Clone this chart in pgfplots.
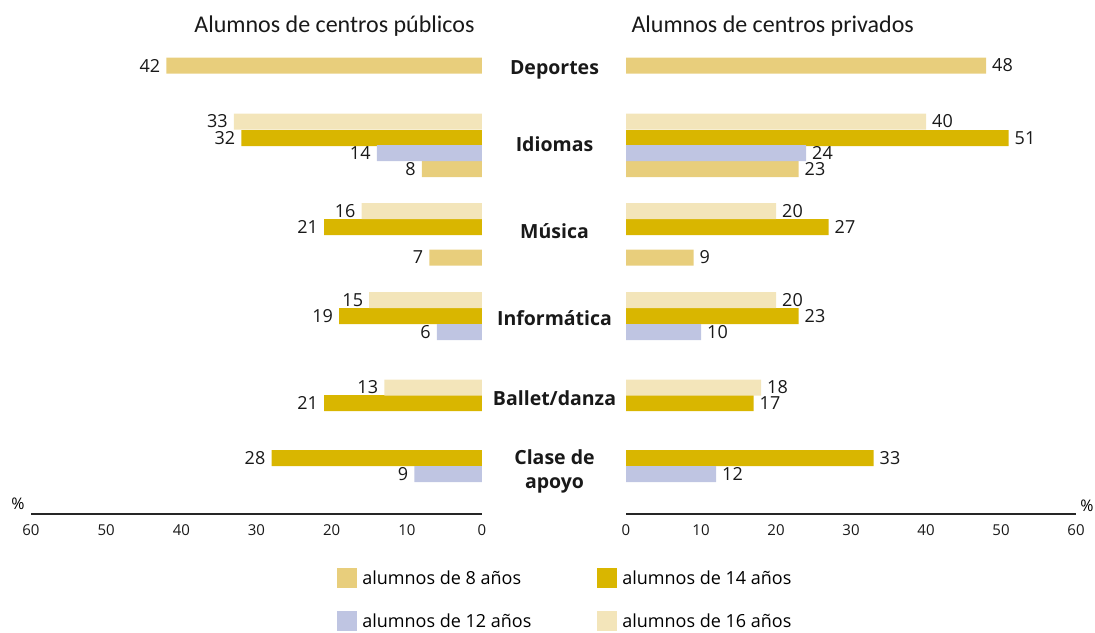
\documentclass[border=0pt]{standalone}
\usepackage{pgfplots}
\pgfplotsset{compat=1.18}
\usepackage{fontspec}
\setmainfont{Open Sans}
\newfontfamily\titlefont{Carlito}
\definecolor{c8}{HTML}{E8CE7C}
\definecolor{c14}{HTML}{D9B600}
\definecolor{c12}{HTML}{BFC5E2}
\definecolor{c16}{HTML}{F3E5BA}
\pgfplotsset{
 mybar/.style={xbar, bar shift=0pt, bar width=16, draw=none, fill=#1,
   legend image code/.code={\fill[#1] (0pt,-10pt) rectangle (20pt,10pt);}},
 half/.style={scale only axis, height=474pt, ymin=-514, ymax=-40,
   xmin=0, xmax=60, axis x line=bottom, axis y line=none,
   x axis line style={-, line width=1.2pt, color=black!85},
   xtick={0,10,...,60}, major tick length=0pt,
   xticklabel style={font=\fontsize{15}{17}\selectfont, text=black!90, yshift=-7pt},
   /pgf/number format/assume math mode=true,
   point meta=x, nodes near coords,
   clip=false}
}
\begin{document}
\begin{tikzpicture}
\useasboundingbox (0pt,0pt) rectangle (1095pt,-632pt);
% left: public
\begin{axis}[half, at={(31pt,-514pt)}, anchor=south west, width=451pt, x dir=reverse,
  every node near coord/.append style={anchor=east, font=\fontsize{18}{20}\selectfont, text=black!90, inner xsep=6pt, inner ysep=2pt}]
\addplot[mybar=c8] coordinates {(42,-65.5) (8,-169) (7,-257.5)};
\addplot[mybar=c14] coordinates {(32,-138) (21,-227) (19,-316) (21,-403) (28,-458)};
\addplot[mybar=c12] coordinates {(14,-153) (6,-332) (9,-474)};
\addplot[mybar=c16] coordinates {(33,-121.5) (16,-211) (15,-300) (13,-387.5)};
\end{axis}
% right: private
\begin{axis}[half, at={(626pt,-514pt)}, anchor=south west, width=450pt,
  every node near coord/.append style={anchor=west, font=\fontsize{18}{20}\selectfont, text=black!90, inner xsep=6pt, inner ysep=2pt},
  legend columns=2, legend cell align=left,
  legend style={at={(axis description cs:-0.642,-0.114)}, anchor=north west, draw=none, fill=none,
    inner sep=0pt, font=\fontsize{18}{20}\selectfont, row sep=23pt,
    nodes={inner sep=0pt},
    /tikz/every odd column/.append style={column sep=5pt}}]
\addplot[mybar=c8] coordinates {(48,-65.5) (23,-169) (9,-257.5)};
\addlegendentry{\makebox[235pt][l]{alumnos de 8 años}}
\addplot[mybar=c14] coordinates {(51,-138) (27,-227) (23,-316) (17,-403) (33,-458)};
\addlegendentry{alumnos de 14 años}
\addplot[mybar=c12] coordinates {(24,-153) (10,-332) (12,-474)};
\addlegendentry{\makebox[235pt][l]{alumnos de 12 años}}
\addplot[mybar=c16] coordinates {(40,-121.5) (20,-211) (20,-300) (18,-387.5)};
\addlegendentry{alumnos de 16 años}
\end{axis}
% titles
\node[anchor=base east, font=\titlefont\fontsize{24}{26}\selectfont, text=black!90] at (478pt,-32pt) {Alumnos de centros públicos};
\node[anchor=base west, font=\titlefont\fontsize{24}{26}\selectfont, text=black!90] at (628pt,-32pt) {Alumnos de centros privados};
% categories
\begin{scope}[every node/.style={anchor=base, font=\bfseries\fontsize{19.5}{21}\selectfont, text=black!90, inner sep=0pt}]
\node at (554.5pt,-74pt) {Deportes};
\node at (554.5pt,-151pt) {Idiomas};
\node at (554.5pt,-238pt) {Música};
\node at (554.5pt,-325.7pt) {Informática};
\node at (554.5pt,-405pt) {Ballet/danza};
\node at (554.5pt,-464pt) {Clase de};
\node at (554.5pt,-488pt) {apoyo};
\end{scope}
\node[anchor=base, font=\fontsize{16}{18}\selectfont, inner sep=0pt] at (18pt,-509pt) {\%};
\node[anchor=base, font=\fontsize{16}{18}\selectfont, inner sep=0pt] at (1087pt,-511pt) {\%};
\end{tikzpicture}
\end{document}
